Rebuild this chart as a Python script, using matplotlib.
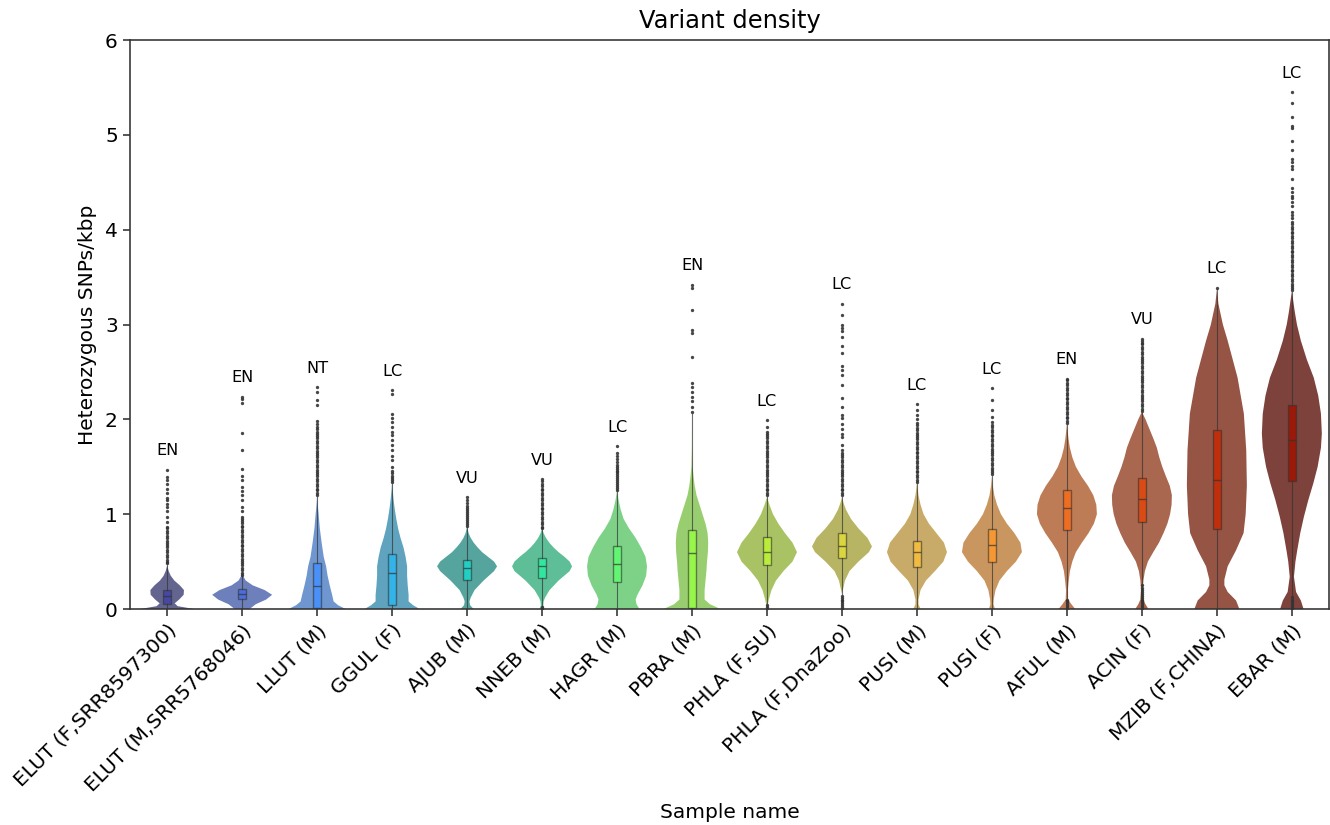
import colorsys
import numpy as np
import matplotlib
matplotlib.use("Agg")
import matplotlib.pyplot as plt

# ---------------- data ----------------
samples = ["ELUT (F,SRR8597300)", "ELUT (M,SRR5768046)", "LLUT (M)", "GGUL (F)",
           "AJUB (M)", "NNEB (M)", "HAGR (M)", "PBRA (M)", "PHLA (F,SU)",
           "PHLA (F,DnaZoo)", "PUSI (M)", "PUSI (F)", "AFUL (M)", "ACIN (F)",
           "MZIB (F,CHINA)", "EBAR (M)"]
iucn = ["EN", "EN", "NT", "LC", "VU", "VU", "LC", "EN", "LC", "LC", "LC", "LC",
        "EN", "VU", "LC", "LC"]

q1 = [0.05, 0.11, 0.01, 0.04, 0.31, 0.33, 0.29, 0.01, 0.46, 0.535, 0.44, 0.50,
      0.83, 0.92, 0.84, 1.35]
median = [0.14, 0.16, 0.24, 0.38, 0.43, 0.45, 0.47, 0.59, 0.60, 0.66, 0.60, 0.67,
          1.06, 1.16, 1.36, 1.78]
q3 = [0.20, 0.21, 0.49, 0.58, 0.52, 0.54, 0.66, 0.83, 0.76, 0.80, 0.72, 0.84,
      1.25, 1.38, 1.89, 2.15]
whis_lo = [0.0, 0.0, 0.0, 0.0, 0.0, 0.04, 0.0, 0.0, 0.06, 0.16, 0.0, 0.0,
           0.12, 0.27, 0.0, 0.15]
whis_hi = [0.46, 0.35, 1.18, 1.32, 0.86, 0.83, 1.24, 2.06, 1.18, 1.18, 1.32, 1.40,
           1.94, 2.07, 3.37, 3.34]

fliers_elut_f = [0.48, 0.50, 0.52, 0.55, 0.57, 0.60, 0.62, 0.65, 0.67, 0.70, 0.72,
                 0.75, 0.77, 0.80, 0.82, 0.85, 0.87, 0.92, 0.97, 1.03, 1.08, 1.11,
                 1.15, 1.17, 1.22, 1.27, 1.32, 1.36, 1.39, 1.47]
fliers_elut_m = [0.36, 0.38, 0.41, 0.43, 0.46, 0.48, 0.51, 0.53, 0.56, 0.58, 0.61,
                 0.63, 0.66, 0.68, 0.71, 0.73, 0.76, 0.78, 0.81, 0.83, 0.86, 0.88,
                 0.91, 0.93, 0.95, 0.97, 1.03, 1.08, 1.15, 1.20, 1.24, 1.29, 1.36,
                 1.40, 1.48, 1.68, 1.86, 2.17, 2.21, 2.24]
fliers_llut = [1.20, 1.22, 1.25, 1.27, 1.30, 1.32, 1.35, 1.37, 1.40, 1.42, 1.45,
               1.47, 1.50, 1.52, 1.55, 1.57, 1.60, 1.62, 1.65, 1.67, 1.70, 1.72,
               1.75, 1.77, 1.80, 1.82, 1.85, 1.87, 1.90, 1.92, 1.95, 1.98, 2.15,
               2.20, 2.29, 2.34]
fliers_ggul = [1.34, 1.36, 1.38, 1.40, 1.43, 1.46, 1.50, 1.57, 1.61, 1.68, 1.73,
               1.78, 1.83, 1.87, 1.92, 1.975, 2.01, 2.06, 2.27, 2.31]
fliers_ajub = [0.88, 0.90, 0.92, 0.94, 0.96, 0.98, 1.00, 1.02, 1.04, 1.06, 1.09,
               1.12, 1.15, 1.18]
fliers_nneb = [0.0, 0.02, 0.85, 0.87, 0.90, 0.92, 0.95, 0.97, 1.00, 1.02, 1.05,
               1.07, 1.10, 1.12, 1.15, 1.17, 1.20, 1.22, 1.25, 1.27, 1.30, 1.32,
               1.35, 1.37]
fliers_hagr = [1.26, 1.28, 1.30, 1.32, 1.34, 1.36, 1.38, 1.40, 1.42, 1.44, 1.46,
               1.48, 1.50, 1.52, 1.55, 1.58, 1.61, 1.65, 1.72]
fliers_pbra = [2.08, 2.13, 2.19, 2.24, 2.29, 2.34, 2.38, 2.66, 2.91, 2.94, 3.15,
               3.38, 3.42]
fliers_phla_su = [0.0, 0.02, 0.04, 1.20, 1.22, 1.25, 1.27, 1.30, 1.32, 1.35, 1.37,
                  1.40, 1.42, 1.45, 1.47, 1.50, 1.52, 1.55, 1.57, 1.60, 1.62, 1.65,
                  1.67, 1.70, 1.72, 1.75, 1.77, 1.80, 1.82, 1.85, 1.87, 1.92, 1.99]
fliers_phla_dz = [0.0, 0.02, 0.04, 0.06, 0.08, 0.10, 0.12, 0.14, 1.20, 1.22, 1.25,
                  1.27, 1.30, 1.32, 1.35, 1.37, 1.40, 1.42, 1.45, 1.47, 1.50, 1.52,
                  1.55, 1.57, 1.60, 1.62, 1.65, 1.68, 1.73, 1.81, 1.85, 1.90, 1.95,
                  2.01, 2.05, 2.13, 2.22, 2.36, 2.47, 2.52, 2.56, 2.70, 2.77, 2.87,
                  2.93, 2.96, 3.00, 3.10, 3.22]
fliers_pusi_m = [1.34, 1.36, 1.39, 1.41, 1.44, 1.46, 1.49, 1.51, 1.54, 1.56, 1.59,
                 1.61, 1.64, 1.66, 1.69, 1.71, 1.74, 1.76, 1.79, 1.81, 1.84, 1.86,
                 1.89, 1.91, 1.94, 1.96, 2.00, 2.05, 2.10, 2.16]
fliers_pusi_f = [1.42, 1.44, 1.47, 1.49, 1.52, 1.54, 1.57, 1.59, 1.62, 1.64, 1.67,
                 1.69, 1.72, 1.74, 1.77, 1.79, 1.82, 1.84, 1.87, 1.89, 1.92, 1.94,
                 1.97, 2.03, 2.10, 2.20, 2.33]
fliers_aful = [0.0, 0.02, 0.04, 0.06, 0.08, 0.10, 1.96, 1.98, 2.01, 2.03, 2.06,
               2.08, 2.11, 2.13, 2.16, 2.18, 2.21, 2.23, 2.26, 2.28, 2.31, 2.33,
               2.36, 2.38, 2.41, 2.43]
fliers_acin = [0.0, 0.02, 0.04, 0.06, 0.08, 0.10, 0.12, 0.14, 0.16, 0.18, 0.20,
               0.22, 0.25, 2.09, 2.11, 2.14, 2.16, 2.19, 2.21, 2.24, 2.26, 2.29,
               2.31, 2.34, 2.36, 2.39, 2.41, 2.44, 2.46, 2.49, 2.51, 2.54, 2.56,
               2.59, 2.61, 2.64, 2.66, 2.69, 2.71, 2.74, 2.76, 2.79, 2.81, 2.83,
               2.85]
fliers_mzib = [3.39]
fliers_ebar = [0.0, 0.02, 0.04, 0.06, 0.08, 0.10, 0.13, 3.36, 3.38, 3.41, 3.43,
               3.46, 3.48, 3.51, 3.53, 3.56, 3.58, 3.61, 3.63, 3.66, 3.68, 3.71,
               3.73, 3.76, 3.78, 3.81, 3.83, 3.86, 3.88, 3.91, 3.93, 3.96, 3.98,
               4.01, 4.03, 4.06, 4.08, 4.12, 4.15, 4.19, 4.25, 4.29, 4.33, 4.35,
               4.40, 4.44, 4.53, 4.64, 4.67, 4.71, 4.75, 4.84, 4.94, 5.07, 5.09,
               5.19, 5.34, 5.45]
fliers = [fliers_elut_f, fliers_elut_m, fliers_llut, fliers_ggul, fliers_ajub,
          fliers_nneb, fliers_hagr, fliers_pbra, fliers_phla_su, fliers_phla_dz,
          fliers_pusi_m, fliers_pusi_f, fliers_aful, fliers_acin, fliers_mzib,
          fliers_ebar]

# violin outlines: value (kbp^-1) and relative half-width
dens_y_elut_f = [-0.05, 0.0, 0.03, 0.06, 0.10, 0.15, 0.20, 0.25, 0.30, 0.35, 0.40, 0.46]
dens_w_elut_f = [1.0, 0.9, 0.35, 0.25, 0.40, 0.55, 0.56, 0.42, 0.24, 0.12, 0.05, 0.0]
dens_y_elut_m = [-0.05, 0.0, 0.05, 0.10, 0.15, 0.20, 0.25, 0.30, 0.35, 0.40]
dens_w_elut_m = [0.20, 0.25, 0.45, 0.80, 1.0, 0.75, 0.35, 0.12, 0.03, 0.0]
dens_y_llut = [-0.05, 0.0, 0.04, 0.08, 0.15, 0.25, 0.35, 0.45, 0.55, 0.70, 0.85, 1.0, 1.1, 1.2]
dens_w_llut = [1.0, 0.95, 0.70, 0.55, 0.50, 0.42, 0.35, 0.30, 0.22, 0.15, 0.09, 0.05, 0.02, 0.0]
dens_y_ggul = [-0.05, 0.0, 0.04, 0.08, 0.15, 0.25, 0.35, 0.45, 0.55, 0.65, 0.75, 0.85,
               0.95, 1.05, 1.15, 1.25, 1.35]
dens_w_ggul = [1.0, 0.92, 0.70, 0.55, 0.55, 0.52, 0.50, 0.50, 0.45, 0.38, 0.28, 0.20,
               0.14, 0.09, 0.05, 0.02, 0.0]
dens_y_ajub = [-0.05, 0.0, 0.04, 0.08, 0.12, 0.20, 0.30, 0.40, 0.45, 0.50, 0.55, 0.60,
               0.65, 0.70, 0.75, 0.80, 0.87]
dens_w_ajub = [0.30, 0.22, 0.10, 0.08, 0.12, 0.25, 0.55, 0.90, 1.0, 0.90, 0.70, 0.50,
               0.35, 0.22, 0.12, 0.05, 0.0]
dens_y_nneb = [-0.05, 0.0, 0.04, 0.08, 0.12, 0.20, 0.30, 0.40, 0.45, 0.50, 0.55, 0.60,
               0.65, 0.70, 0.75, 0.80, 0.85]
dens_w_nneb = [0.10, 0.08, 0.04, 0.05, 0.10, 0.25, 0.55, 0.92, 1.0, 0.92, 0.75, 0.55,
               0.38, 0.24, 0.13, 0.05, 0.0]
dens_y_hagr = [-0.05, 0.0, 0.05, 0.10, 0.15, 0.25, 0.35, 0.45, 0.55, 0.65, 0.75, 0.85,
               0.95, 1.05, 1.15, 1.25]
dens_w_hagr = [0.80, 0.75, 0.65, 0.62, 0.68, 0.85, 0.97, 1.0, 0.95, 0.80, 0.62, 0.40,
               0.22, 0.12, 0.05, 0.0]
dens_y_pbra = [-0.05, 0.0, 0.05, 0.10, 0.20, 0.30, 0.40, 0.50, 0.60, 0.70, 0.80, 0.90,
               1.0, 1.1, 1.2, 1.3, 1.4, 1.5, 1.7, 2.07]
dens_w_pbra = [1.0, 0.95, 0.60, 0.42, 0.42, 0.45, 0.48, 0.50, 0.53, 0.54, 0.52, 0.45,
               0.35, 0.25, 0.15, 0.09, 0.05, 0.02, 0.005, 0.0]
dens_y_phla_su = [0.0, 0.05, 0.10, 0.20, 0.30, 0.40, 0.50, 0.60, 0.70, 0.80, 0.90,
                  1.0, 1.1, 1.18]
dens_w_phla_su = [0.02, 0.03, 0.06, 0.15, 0.30, 0.55, 0.85, 1.0, 0.85, 0.60, 0.38,
                  0.20, 0.08, 0.0]
dens_y_phla_dz = [0.16, 0.20, 0.30, 0.40, 0.50, 0.60, 0.66, 0.75, 0.85, 0.95, 1.05,
                  1.12, 1.18]
dens_w_phla_dz = [0.0, 0.03, 0.10, 0.25, 0.55, 0.90, 1.0, 0.85, 0.55, 0.30, 0.13,
                  0.05, 0.0]
dens_y_pusi_m = [-0.05, 0.0, 0.05, 0.10, 0.20, 0.30, 0.40, 0.50, 0.60, 0.70, 0.80,
                 0.90, 1.0, 1.1, 1.2, 1.33]
dens_w_pusi_m = [0.15, 0.12, 0.05, 0.05, 0.12, 0.30, 0.60, 0.88, 1.0, 0.90, 0.65,
                 0.40, 0.22, 0.12, 0.05, 0.0]
dens_y_pusi_f = [-0.05, 0.0, 0.05, 0.10, 0.20, 0.30, 0.40, 0.50, 0.60, 0.70, 0.80,
                 0.90, 1.0, 1.1, 1.2, 1.3, 1.4]
dens_w_pusi_f = [0.12, 0.10, 0.05, 0.06, 0.12, 0.25, 0.50, 0.80, 1.0, 0.95, 0.75,
                 0.50, 0.30, 0.17, 0.08, 0.03, 0.0]
dens_y_aful = [-0.05, 0.0, 0.05, 0.10, 0.20, 0.30, 0.40, 0.50, 0.60, 0.70, 0.80, 0.90,
               1.0, 1.1, 1.2, 1.3, 1.4, 1.5, 1.6, 1.7, 1.8, 1.95]
dens_w_aful = [0.30, 0.28, 0.15, 0.04, 0.03, 0.06, 0.10, 0.18, 0.30, 0.50, 0.72, 0.90,
               1.0, 0.98, 0.88, 0.70, 0.48, 0.30, 0.18, 0.10, 0.05, 0.0]
dens_y_acin = [-0.05, 0.0, 0.05, 0.10, 0.20, 0.30, 0.40, 0.50, 0.60, 0.70, 0.80, 0.90,
               1.0, 1.1, 1.2, 1.3, 1.4, 1.5, 1.6, 1.7, 1.8, 1.9, 2.0, 2.08]
dens_w_acin = [0.25, 0.22, 0.12, 0.05, 0.03, 0.05, 0.10, 0.20, 0.38, 0.57, 0.72, 0.85,
               0.94, 0.99, 1.0, 0.93, 0.80, 0.68, 0.58, 0.50, 0.38, 0.25, 0.12, 0.0]
dens_y_mzib = [-0.05, 0.0, 0.09, 0.18, 0.25, 0.31, 0.45, 0.62, 0.80, 1.0, 1.3, 1.67,
               2.06, 2.44, 2.83, 3.0, 3.22, 3.37]
dens_w_mzib = [0.78, 0.75, 0.64, 0.36, 0.25, 0.25, 0.36, 0.64, 0.89, 0.96, 1.0, 0.98,
               0.90, 0.69, 0.36, 0.20, 0.05, 0.0]
dens_y_ebar = [-0.05, 0.0, 0.09, 0.18, 0.34, 0.50, 0.62, 0.80, 0.97, 1.15, 1.33, 1.5,
               1.7, 1.85, 2.06, 2.25, 2.44, 2.63, 2.83, 3.0, 3.13, 3.35]
dens_w_ebar = [0.42, 0.39, 0.30, 0.14, 0.07, 0.12, 0.18, 0.28, 0.40, 0.55, 0.72, 0.86,
               0.97, 1.0, 0.97, 0.88, 0.73, 0.50, 0.30, 0.17, 0.10, 0.0]

dens_y = [dens_y_elut_f, dens_y_elut_m, dens_y_llut, dens_y_ggul, dens_y_ajub,
          dens_y_nneb, dens_y_hagr, dens_y_pbra, dens_y_phla_su, dens_y_phla_dz,
          dens_y_pusi_m, dens_y_pusi_f, dens_y_aful, dens_y_acin, dens_y_mzib,
          dens_y_ebar]
dens_w = [dens_w_elut_f, dens_w_elut_m, dens_w_llut, dens_w_ggul, dens_w_ajub,
          dens_w_nneb, dens_w_hagr, dens_w_pbra, dens_w_phla_su, dens_w_phla_dz,
          dens_w_pusi_m, dens_w_pusi_f, dens_w_aful, dens_w_acin, dens_w_mzib,
          dens_w_ebar]

# ---------------- style ----------------
n = len(samples)
cmap = plt.get_cmap("turbo")
base_cols = [cmap(c) for c in np.linspace(0.07, 0.95, n)]


def desaturate(rgb, prop, dark):
    h, l, s = colorsys.rgb_to_hls(*rgb[:3])
    r, g, b = colorsys.hls_to_rgb(h, l * dark, s * prop)
    return (r, g, b)


violin_cols = [desaturate(c, 0.5, 0.92) for c in base_cols]

scale = 1.45
fig = plt.figure(figsize=(13.3, 8.25), dpi=100)
ax = fig.add_axes([0.0975, 0.2618, 0.9020, 0.6897])

positions = np.arange(n)
vstats = []
for i in range(n):
    vstats.append({"coords": np.array(dens_y[i]), "vals": np.array(dens_w[i]),
                   "mean": median[i], "median": median[i],
                   "min": min(dens_y[i]), "max": max(dens_y[i])})
parts = ax.violin(vstats, positions=positions, widths=0.8, showmeans=False,
                  showextrema=False, showmedians=False)
for body, col in zip(parts["bodies"], violin_cols):
    body.set_facecolor(col)
    body.set_edgecolor("none")
    body.set_alpha(0.9)

bstats = []
for i in range(n):
    bstats.append({"med": median[i], "q1": q1[i], "q3": q3[i],
                   "whislo": whis_lo[i], "whishi": whis_hi[i], "fliers": fliers[i]})
bp = ax.bxp(bstats, positions=positions, widths=0.11, patch_artist=True,
            showcaps=False,
            boxprops=dict(edgecolor=(0.2, 0.2, 0.2, 0.6), linewidth=1.0),
            whiskerprops=dict(color=(0.2, 0.2, 0.2, 0.7), linewidth=0.8),
            medianprops=dict(color=(0.2, 0.2, 0.2, 0.7), linewidth=1.0),
            flierprops=dict(marker="o", markersize=2.4, markerfacecolor="#333333",
                            markeredgecolor="none", alpha=0.9))
for patch, col in zip(bp["boxes"], base_cols):
    patch.set_facecolor((col[0], col[1], col[2], 0.85))

for i in range(n):
    top = max([whis_hi[i]] + list(fliers[i]))
    ax.text(positions[i], top + 0.12, iucn[i], ha="center", va="bottom",
            fontsize=8 * scale, color="black")

ax.set_xlim(-0.5, n - 0.5)
ax.set_ylim(0, 6)
ax.set_xticks(positions)
ax.set_xticklabels(samples, rotation=45, ha="right", rotation_mode="anchor",
                   fontsize=10 * scale)
ax.tick_params(axis="y", labelsize=10 * scale)
ax.tick_params(length=3.5 * scale, width=0.8 * scale, color="#333333")
ax.set_xlabel("Sample name", fontsize=10 * scale, labelpad=4 * scale)
ax.set_ylabel("Heterozygous SNPs/kbp", fontsize=10 * scale, labelpad=4 * scale)
ax.set_title("Variant density", fontsize=12 * scale, pad=6 * scale)
for sp in ax.spines.values():
    sp.set_color("#333333")
    sp.set_linewidth(0.8 * scale)

fig.savefig("out.png", dpi=100)
